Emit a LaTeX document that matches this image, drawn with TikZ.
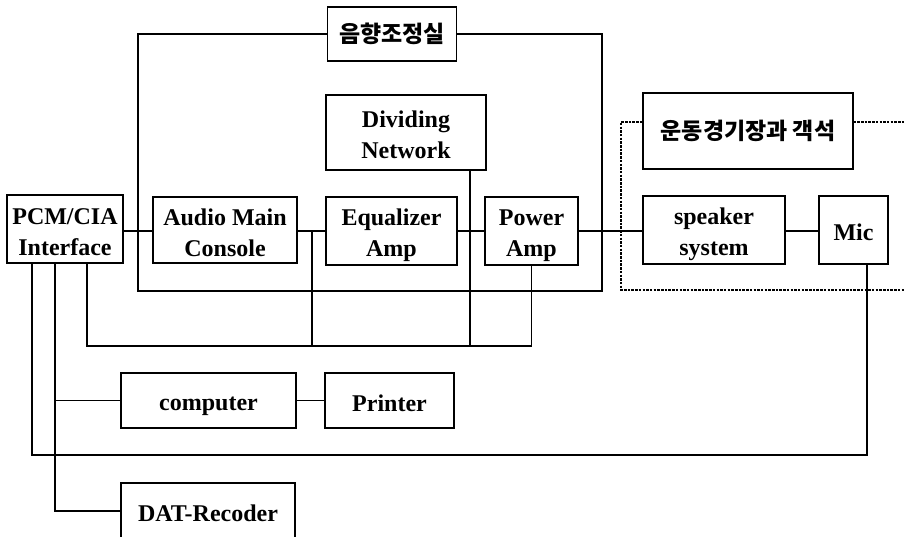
\documentclass[tikz,border=0pt]{standalone}
\usepackage{fontspec}
\setmainfont{Liberation Serif}
\newfontfamily\kr{Noto Sans CJK KR}
\newcommand{\ls}{\rule[-3pt]{0pt}{27.5pt}}
\begin{document}
\begin{tikzpicture}[x=1pt,y=-1pt,
  box/.style={draw, line width=1.3pt, rectangle, inner sep=0pt, align=center,
    font=\fontsize{24}{31}\selectfont\bfseries},
  krbox/.style={box, font=\kr\fontsize{23}{26}\selectfont\bfseries},
  wire/.style={line width=1.2pt},
  dwire/.style={line width=1.1pt, dash pattern=on 2.5pt off 1.2pt}]
\clip (0,0) rectangle (904,537);
\useasboundingbox (0,0) rectangle (904,537);

% boxes
\node[box, minimum width=116pt, minimum height=68pt] (pcm) at (65,229) {\ls PCM/CIA\\\ls Interface};
\node[box, minimum width=144pt, minimum height=66pt] (console) at (225,230) {\ls Audio Main\\\ls Console};
\node[box, minimum width=131pt, minimum height=68pt] (eq) at (391.5,231) {\ls Equalizer\\\ls Amp};
\node[box, minimum width=93pt, minimum height=68pt] (power) at (531.5,231) {\ls Power\\\ls Amp};
\node[box, minimum width=160pt, minimum height=75pt] (div) at (406,132.5) {\ls Dividing\\\ls Network};
\node[krbox, minimum width=129pt, minimum height=54pt] (ctrl) at (392,34) {음향조정실};
\node[krbox, minimum width=210pt, minimum height=76pt] (stad) at (748,131) {운동경기장과 객석};
\node[box, minimum width=142pt, minimum height=68pt] (spk) at (714,230) {\ls speaker\\\ls system};
\node[box, minimum width=69pt, minimum height=68pt] (mic) at (853.5,230) {\ls Mic};
\node[box, minimum width=175pt, minimum height=55pt] (comp) at (208.5,400.5) {\ls computer};
\node[box, minimum width=129pt, minimum height=55pt] (prn) at (389.5,400.5) {\ls Printer};
\node[box, minimum width=174pt, minimum height=56pt] (dat) at (208,511) {\ls DAT-Recoder};

% sound control room frame
\draw[wire] (ctrl.west) -- (138,34) -- (138,291) -- (602,291) -- (602,34) -- (ctrl.east);

% stadium dashed frame
\coordinate (dtl) at (621,122);
\coordinate (dbl) at (621,290);
\draw[dwire] (stad.west |- dtl) -- (dtl) -- (dbl) -- (910,290);
\draw[dwire] (stad.east |- dtl) -- (910,122);

% main signal line
\draw[wire] (pcm.east |- 0,231) -- (console.west |- 0,231);
\draw[wire] (console.east |- 0,231) -- (eq.west |- 0,231);
\draw[wire] (eq.east |- 0,231) -- (power.west |- 0,231);
\draw[wire] (power.east |- 0,231) -- (spk.west |- 0,231);
\draw[wire] (spk.east |- 0,231) -- (mic.west |- 0,231);

% lower bus
\coordinate (j1) at (312,231);
\draw[wire] (pcm.south -| 87,0) -- (87,346) -- (531.5,346) -- (power.south);
\draw[wire] (j1) -- (312,346);
\draw[wire] (div.south -| 470,0) -- (470,346);

% mic loop
\draw[wire] (pcm.south -| 32,0) -- (32,455) -- (867,455) -- (mic.south -| 867,0);

% computer / DAT branch
\draw[wire] (pcm.south -| 55,0) -- (55,511) -- (dat.west);
\draw[wire] (55,400.5) -- (comp.west);
\draw[wire] (comp.east) -- (prn.west);
\end{tikzpicture}
\end{document}
